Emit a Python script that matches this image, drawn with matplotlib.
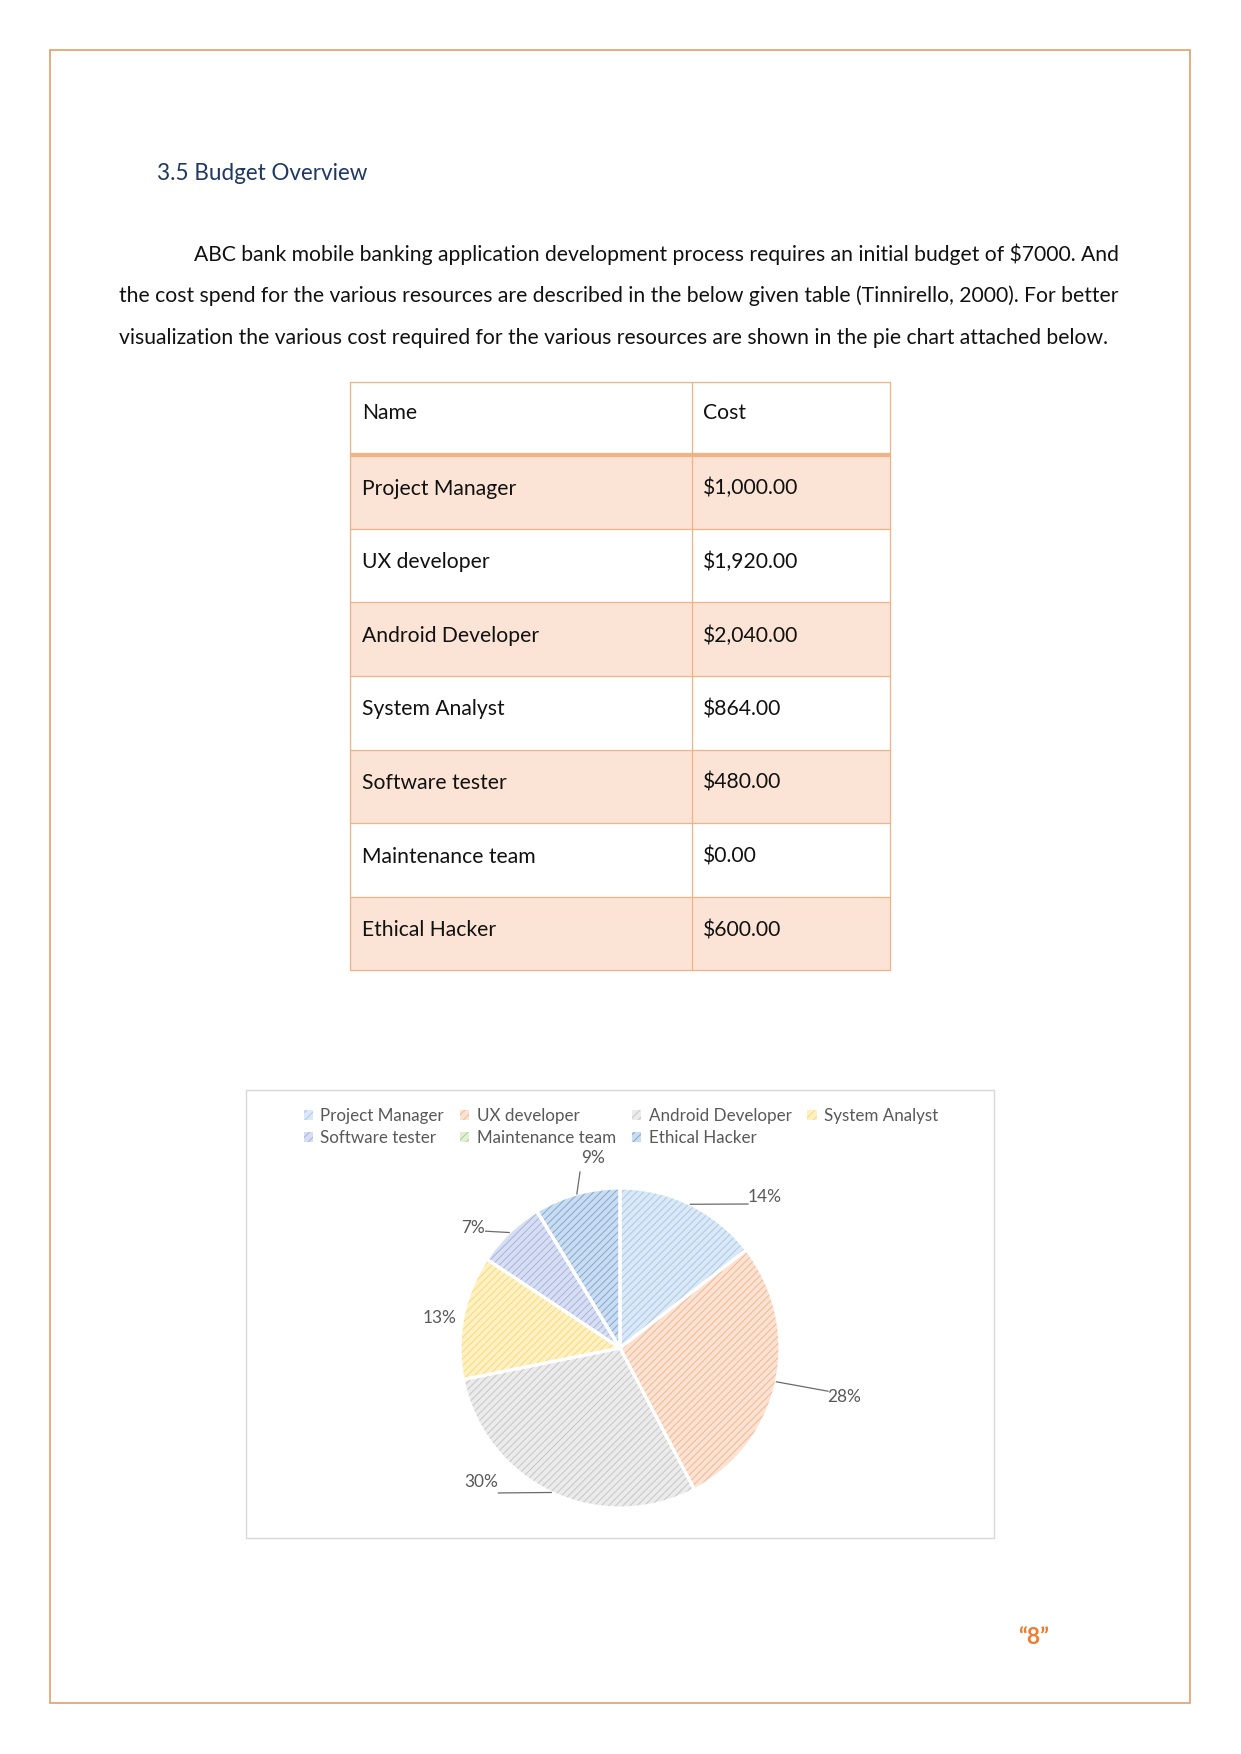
import matplotlib
matplotlib.use("Agg")
import matplotlib.pyplot as plt
from matplotlib.patches import Rectangle, Patch
import numpy as np

# ---------------- data ----------------
heading = "3.5 Budget Overview"
paragraph_lines = [
    "ABC bank mobile banking application development process requires an initial budget of $7000. And",
    "the cost spend for the various resources are described in the below given table (Tinnirello, 2000). For better",
    "visualization the various cost required for the various resources are shown in the pie chart attached below.",
]
table_header = ["Name", "Cost"]
names = ["Project Manager", "UX developer", "Android Developer", "System Analyst",
         "Software tester", "Maintenance team", "Ethical Hacker"]
costs = [1000.00, 1920.00, 2040.00, 864.00, 480.00, 0.00, 600.00]
page_label = "\u201c8\u201d"

# ---------------- styles ----------------
face_colors = ["#dbe8f6", "#fbe2d2", "#ebebeb", "#fff1c6", "#d8def2", "#e0efd6", "#cadcef"]
hatch_colors = ["#a6c8ea", "#f3b68e", "#c4c4c4", "#fcd86a", "#a2b2e0", "#a6cf8a", "#7ea6d6"]
FONT = "Lato"
TXT_GRAY = "#595959"

W, H, DPI = 1241, 1754, 150
plt.rcParams["hatch.linewidth"] = 0.45
fig = plt.figure(figsize=(W / DPI, H / DPI), dpi=DPI)
page = fig.add_axes([0, 0, 1, 1])
page.set_xlim(0, W)
page.set_ylim(H, 0)
page.axis("off")

# page border
page.add_patch(Rectangle((50, 50), 1140, 1653, fill=False, ec="#e0a06a", lw=0.8))

# heading
page.text(157, 180, heading, fontsize=10.8, color="#1f3864", family=FONT, va="baseline")

# paragraph
line_y0, line_dy = 261, 41.5
for i, line in enumerate(paragraph_lines):
    x = 194 if i == 0 else 119
    page.text(x, line_y0 + i * line_dy, line, fontsize=10.15, color="#111111",
              family=FONT, va="baseline")

# table
tx0, tx1, tx2 = 350, 691.5, 890
ty0, rh = 381.6, 73.6
nrows = len(names) + 1
border = "#f4b183"
for i in range(len(names)):
    top = ty0 + (i + 1) * rh
    if i % 2 == 0:
        page.add_patch(Rectangle((tx0, top), tx2 - tx0, rh, fc="#fbe4d5", ec="none"))
for r in range(nrows + 1):
    y = ty0 + r * rh
    page.plot([tx0, tx2], [y, y], color=border, lw=2.0 if r == 1 else 0.6,
              solid_capstyle="butt")
for x in (tx0, tx1, tx2):
    page.plot([x, x], [ty0, ty0 + nrows * rh], color=border, lw=0.6)

rows = [table_header] + [[n, f"${c:,.2f}"] for n, c in zip(names, costs)]
for r, (a, b) in enumerate(rows):
    frac = 0.51 if r == 0 else 0.535
    yb = ty0 + r * rh + frac * rh
    page.text(362, yb, a, fontsize=10.15, family=FONT, va="baseline", color="#111111")
    page.text(703, yb, b, fontsize=10.15, family=FONT, va="baseline", color="#111111")

# chart box
page.add_patch(Rectangle((246, 1090), 748, 448, fill=False, ec="#d9d9d9", lw=0.7))

# pie
cx, cy, R = 620, 1348, 160
half = 1.6 * R
ax = fig.add_axes([(cx - half) / W, 1 - (cy + half) / H, 2 * half / W, 2 * half / H])
wedges, _ = ax.pie(costs, startangle=90, counterclock=False, radius=1,
                   wedgeprops=dict(linewidth=0))
for w, fc, hc in zip(wedges, face_colors, hatch_colors):
    w.set_facecolor(fc)
    w.set_edgecolor(hc)
    w.set_hatch("///////")
    w.set_linewidth(0)
ax.pie(costs, startangle=90, counterclock=False, radius=1,
       wedgeprops=dict(facecolor="none", edgecolor="white", linewidth=1.5))
ax.set_xlim(-1.6, 1.6)
ax.set_ylim(-1.6, 1.6)
ax.set_aspect("equal")
ax.axis("off")

total = sum(costs)
# label placement (r units, relative to pie centre): text centre, leader end
label_pos = [(0.905, 0.945), (1.40, -0.305), (-0.87, -0.84), (-1.13, 0.19),
             (-0.92, 0.75), None, (-0.17, 1.185)]
leader_end = [(0.80, 0.90), (1.30, -0.27), (-0.76, -0.906), None,
              (-0.84, 0.73), None, (-0.25, 1.10)]
for w, c, lp, le in zip(wedges, costs, label_pos, leader_end):
    if lp is None or c == 0:
        continue
    mid = np.deg2rad((w.theta1 + w.theta2) / 2)
    ex, ey = np.cos(mid), np.sin(mid)
    if le is not None:
        ax.plot([ex, le[0]], [ey, le[1]], color="#6b6b6b", lw=0.6)
    ax.text(lp[0], lp[1], f"{round(100 * c / total)}%", ha="center", va="center",
            fontsize=8.3, family=FONT, color=TXT_GRAY)

# legend (row-major order like the reference)
handles = [Patch(facecolor=fc, edgecolor=hc, hatch="//////", linewidth=0)
           for fc, hc in zip(face_colors, hatch_colors)]
order = [0, 4, 1, 5, 2, 6, 3]
fig.legend([handles[i] for i in order], [names[i] for i in order], ncol=4,
           loc="upper left", bbox_to_anchor=(303.5 / W, 1 - 1108 / H), frameon=False,
           prop=dict(family=FONT, size=8.15), labelcolor=TXT_GRAY,
           handlelength=0.55, handleheight=0.55, handletextpad=0.45,
           columnspacing=0.93, labelspacing=0.35, borderpad=0, borderaxespad=0)

# page number
page.text(1034, 1637, page_label, fontsize=11, fontweight="bold", color="#ed7d31",
          family=FONT, ha="center", va="center")

fig.savefig("out.png", dpi=DPI)
